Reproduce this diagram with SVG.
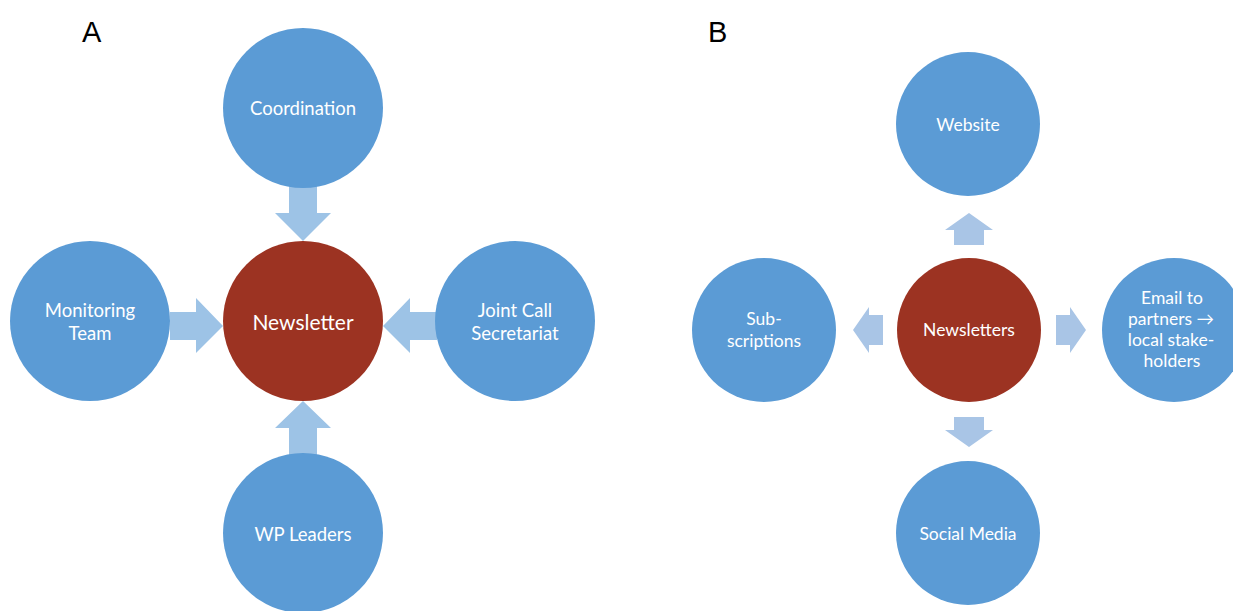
<svg xmlns="http://www.w3.org/2000/svg" width="1233" height="611" viewBox="0 0 1233 611">
<style>
.blue{fill:#5B9BD5}
.red{fill:#9C3322}
.arrA{fill:#9DC3E6}
.arrB{fill:#A9C5E6}
.t{font-family:Lato,"Open Sans","Liberation Sans",sans-serif;fill:#fff;text-anchor:middle;dominant-baseline:central}
.ta{font-size:18.5px}
.tb{font-size:17.5px}
.lab{font-family:"Liberation Sans",Arial,sans-serif;font-size:29px;fill:#000}
</style>
<rect width="1233" height="611" fill="#fff"/>
<text class="lab" x="82" y="42">A</text>
<text class="lab" x="708" y="42">B</text>

<g id="connectors">
  <polygon class="arrA" points="289,185 317,185 317,213 331,213 303,241 275,213 289,213"/>
  <polygon class="arrA" points="170,312 196,312 196,298 223,326 196,353 196,340 170,340"/>
  <polygon class="arrA" points="437,312 410,312 410,298 383,326 410,353 410,340 437,340"/>
  <polygon class="arrA" points="289,456 317,456 317,428 331,428 303,401 275,428 289,428"/>
  <polygon class="arrB" points="954,245 984,245 984,230 993,230 969,213 945,230 954,230"/>
  <polygon class="arrB" points="883,315 869,315 869,307 853,330 869,353 869,345 883,345"/>
  <polygon class="arrB" points="1056,315 1070,315 1070,307 1086,330 1070,353 1070,345 1056,345"/>
  <polygon class="arrB" points="954,417 984,417 984,430 993,430 969,447 945,430 954,430"/>
</g>

<g id="a-coordination"><circle class="blue" cx="303" cy="108" r="80"/><text class="t ta" x="303" y="108">Coordination</text></g>
<g id="a-newsletter"><circle class="red" cx="303" cy="321" r="80"/><text class="t" x="303" y="321" font-size="21">Newsletter</text></g>
<g id="a-monitoring"><circle class="blue" cx="90" cy="321" r="80"/><text class="t ta" x="90" y="310">Monitoring</text><text class="t ta" x="90" y="333">Team</text></g>
<g id="a-jointcall"><circle class="blue" cx="515" cy="321" r="80"/><text class="t ta" x="515" y="310">Joint Call</text><text class="t ta" x="515" y="333">Secretariat</text></g>
<g id="a-wpleaders"><circle class="blue" cx="303" cy="533" r="80"/><text class="t ta" x="303" y="534">WP Leaders</text></g>

<g id="b-website"><circle class="blue" cx="968" cy="124" r="72"/><text class="t tb" x="968" y="124">Website</text></g>
<g id="b-newsletters"><circle class="red" cx="969" cy="330" r="72" fill="#9E3424"/><text class="t tb" x="969" y="329">Newsletters</text></g>
<g id="b-subscriptions"><circle class="blue" cx="764" cy="330" r="72"/><text class="t tb" x="764" y="318">Sub-</text><text class="t tb" x="764" y="340">scriptions</text></g>
<g id="b-email"><circle class="blue" cx="1174" cy="330" r="72"/><text class="t tb" x="1172" y="297">Email to</text><text class="t tb" x="1171" y="318">partners →</text><text class="t tb" x="1171" y="339">local stake-</text><text class="t tb" x="1172" y="360">holders</text></g>
<g id="b-social"><circle class="blue" cx="968" cy="533" r="72"/><text class="t tb" x="968" y="533">Social Media</text></g>
</svg>
